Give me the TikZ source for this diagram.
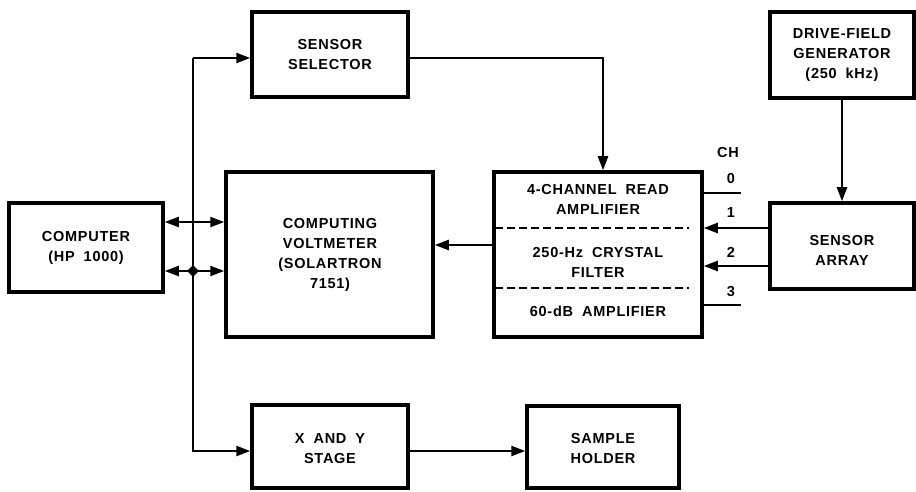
\documentclass[tikz,border=0pt]{standalone}
\usepackage{fontspec}
\newfontfamily\labfont[LetterSpace=5,WordSpace=1.9]{Liberation Sans}
\usetikzlibrary{arrows.meta,shapes.geometric,calc}
\begin{document}
\begin{tikzpicture}[x=1pt,y=-1pt,
  box/.style={draw,line width=3.5pt,rectangle,inner sep=0pt},
  lab/.style={font={\labfont\bfseries\fontsize{14.5}{20}\selectfont},align=center,inner sep=0pt},
  conn/.style={line width=2.4pt},
  arr/.style={conn,-{Triangle[length=14pt,width=10pt]}},
  darr/.style={conn,{Triangle[length=14pt,width=10pt]}-{Triangle[length=14pt,width=10pt]}},
  sepline/.style={line width=2pt,dash pattern=on 8pt off 4pt}]
\useasboundingbox[fill=white] (0,0) rectangle (916,492);
% boxes
\node[box,minimum width=156pt,minimum height=85pt] (sel) at (330,54.5) {};
\node[box,minimum width=154pt,minimum height=89pt] (comp) at (86,247.5) {};
\node[box,minimum width=207pt,minimum height=165pt] (volt) at (329.5,254.5) {};
\node[box,minimum width=208pt,minimum height=165pt] (amp) at (598,254.5) {};
\node[box,minimum width=144pt,minimum height=86pt] (drive) at (842,55) {};
\node[box,minimum width=144pt,minimum height=86pt] (array) at (842,246) {};
\node[box,minimum width=156pt,minimum height=83pt] (xy) at (330,446.5) {};
\node[box,minimum width=152pt,minimum height=82pt] (sample) at (603,447) {};
% texts
\node[lab] (tsel) at (330,55) {SENSOR\\SELECTOR};
\node[lab] (tcomp) at (86,248) {COMPUTER\\(HP 1000)};
\node[lab] (tvolt) at (330,255) {COMPUTING\\VOLTMETER\\(SOLARTRON\\7151)};
\node[lab] (tdrive) at (842,55) {DRIVE-FIELD\\GENERATOR\\(250 kHz)};
\node[lab] (tarray) at (842,250) {SENSOR\\ARRAY};
\node[lab] (txy) at (330,449) {X AND Y\\STAGE};
\node[lab] (tsample) at (603,449) {SAMPLE\\HOLDER};
\node[lab] (ta1) at (598,199) {4-CHANNEL READ\\AMPLIFIER};
\node[lab] (ta2) at (598,262.5) {250-Hz CRYSTAL\\FILTER};
\node[lab] (ta3) at (598,311) {60-dB AMPLIFIER};
\node[lab] (ch) at (728,153) {CH};
\node[lab] (c0) at (731,179) {0};
\node[lab] (c1) at (731,213) {1};
\node[lab] (c2) at (731,252) {2};
\node[lab] (c3) at (731,292) {3};
% dashed separators
\draw[sepline] ([xshift=3pt]amp.west |- 0,228) -- ([xshift=-15pt]amp.east |- 0,228);
\draw[sepline] ([xshift=3pt]amp.west |- 0,288) -- ([xshift=-15pt]amp.east |- 0,288);
% bus
\coordinate (busTop) at (193,58);
\coordinate (busBot) at (193,451);
\node[diamond,fill=black,inner sep=0pt,minimum width=12pt,minimum height=12pt] (junc) at (193,271) {};
\draw[arr] (busTop) -- (busTop -| sel.west);
\draw[arr] (busTop) -- (busBot) -- (busBot -| xy.west);
\draw[darr] (comp.east |- 0,222) -- (volt.west |- 0,222);
\draw[darr] (comp.east |- junc) -- (volt.west |- junc);
% selector to amp
\draw[arr] (sel.east |- busTop) -| ([xshift=5pt]amp.north);
% amp to voltmeter
\draw[arr] (amp.west |- 0,245) -- (volt.east |- 0,245);
% drive to array
\draw[arr] (drive.south) -- (array.north);
% channels
\coordinate (ch0) at (741,193);
\coordinate (ch3) at (741,305);
\draw[conn] (amp.east |- ch0) -- (ch0);
\draw[conn] (amp.east |- ch3) -- (ch3);
\draw[arr] (array.west |- 0,228) -- (amp.east |- 0,228);
\draw[arr] (array.west |- 0,266) -- (amp.east |- 0,266);
% xy to sample
\draw[arr] (xy.east |- busBot) -- (sample.west |- busBot);
\end{tikzpicture}
\end{document}
